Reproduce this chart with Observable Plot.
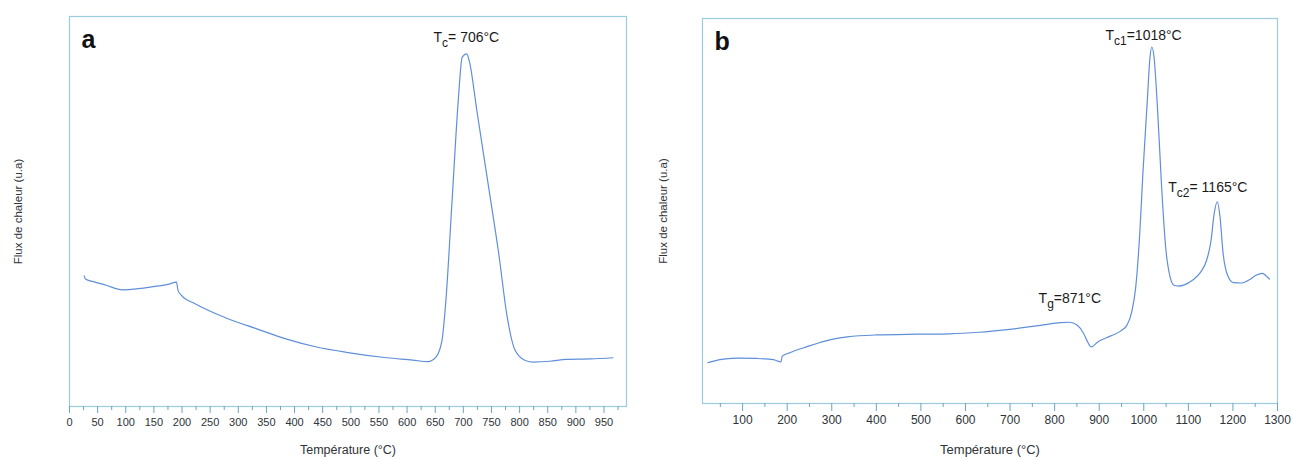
<!DOCTYPE html>
<html>
<head>
<meta charset="utf-8">
<script src="https://cdn.jsdelivr.net/npm/d3@7"></script>
<script src="https://cdn.jsdelivr.net/npm/@observablehq/plot@0.6"></script>
<style>
  html, body { margin: 0; padding: 0; background: #fff; }
  #wrap { position: relative; width: 1293px; height: 459px; overflow: hidden; }
  #pa, #pb { position: absolute; top: 0; }
  #pa { left: 0; }
  #pb { left: 645px; }
</style>
</head>
<body>
<div id="wrap"><div id="pa"></div><div id="pb"></div></div>
<script>
// ---------- Panel a data ----------
const tempA = [26, 29, 45, 65, 94, 123, 152, 175, 190, 193, 199, 224, 275, 333, 383, 441, 492, 564, 610, 637, 651, 662, 669, 680, 691, 698, 706, 711, 724, 745, 763, 778, 792, 810, 825, 854, 883, 926, 966];
const fluxA = [33.5, 32.6, 31.9, 31.1, 29.9, 30.2, 30.8, 31.3, 31.9, 29.7, 28.5, 26.3, 22.9, 19.9, 17.4, 15.2, 13.9, 12.5, 11.9, 11.5, 12.6, 16.9, 27.2, 52.8, 78.5, 89.6, 90.4, 88.3, 75.9, 56.2, 39.1, 22.9, 14.4, 11.8, 11.4, 11.6, 12.1, 12.2, 12.5];
const ticksA = [0, 50, 100, 150, 200, 250, 300, 350, 400, 450, 500, 550, 600, 650, 700, 750, 800, 850, 900, 950];
const minorA = [25, 75, 125, 175, 225, 275, 325, 375, 425, 475, 525, 575, 625, 675, 725, 775, 825, 875, 925, 975];
const labelsA = [{t: 647, v: 94.6, s: "T|c|= 706°C"}];

// ---------- Panel b data ----------
const tempB = [22, 49, 86, 132, 169, 186, 189, 206, 243, 298, 335, 400, 492, 565, 630, 694, 768, 814, 833, 851, 865, 874, 882, 897, 925, 948, 962, 973, 982, 991, 998, 1008, 1014, 1018, 1023, 1031, 1040, 1049, 1059, 1068, 1077, 1091, 1109, 1128, 1141, 1151, 1158, 1165, 1171, 1178, 1188, 1201, 1220, 1238, 1252, 1266, 1275, 1282];
const fluxB = [10.6, 11.4, 11.8, 11.7, 11.4, 10.8, 12.3, 13.2, 14.7, 16.6, 17.3, 17.8, 18.0, 18.1, 18.5, 19.2, 20.3, 21.0, 21.1, 20.3, 18.2, 16.0, 14.7, 16.0, 17.5, 18.8, 20.3, 23.8, 30.3, 44.2, 59.7, 78.8, 90.0, 92.6, 90.0, 76.2, 56.3, 40.7, 32.9, 30.7, 30.5, 30.8, 32.0, 34.2, 37.2, 42.4, 49.4, 52.4, 48.5, 39.0, 33.3, 31.4, 31.3, 32.2, 33.3, 33.8, 33.1, 32.3];
const ticksB = [100, 200, 300, 400, 500, 600, 700, 800, 900, 1000, 1100, 1200, 1300];
const minorB = [50, 150, 250, 350, 450, 550, 650, 750, 850, 950, 1050, 1150, 1250];
const labelsB = [
  {t: 914, v: 95.6, s: "T|c1|=1018°C"},
  {t: 1055, v: 56.1, s: "T|c2|= 1165°C"},
  {t: 764, v: 27.3, s: "T|g|=871°C"}
];

const yTitle = "Flux de chaleur (u.a)";
const xTitle = "Température (°C)";

const FONT = "'Liberation Sans', Arial, Helvetica, sans-serif";
const LINE = "#5f8fd9";
const FRAME = "#9ccbe0";
const TICK = "#6aa6c2";
const TXT = "#2e3338";

function subscripts(svg) {
  svg.querySelectorAll("text").forEach(el => {
    const s = el.textContent;
    if (!s.includes("|")) return;
    const [a, b, c] = s.split("|");
    const ns = "http://www.w3.org/2000/svg";
    el.textContent = "";
    const t1 = document.createElementNS(ns, "tspan"); t1.textContent = a;
    const t2 = document.createElementNS(ns, "tspan"); t2.textContent = b;
    t2.setAttribute("font-size", "12"); t2.setAttribute("dy", "5");
    const t3 = document.createElementNS(ns, "tspan"); t3.textContent = c;
    t3.setAttribute("dy", "-5");
    el.append(t1, t2, t3);
  });
}

function panel(o) {
  const data = o.temps.map((t, i) => ({t, v: o.flux[i]}));
  const svg = Plot.plot({
    width: o.width, height: 459,
    marginLeft: o.ml, marginRight: o.mr, marginTop: o.mt, marginBottom: o.mb,
    style: {fontFamily: FONT, fontSize: o.tickFont + "px", color: TXT, background: "transparent", overflow: "visible"},
    x: {domain: o.domain},
    y: {domain: [0, 100], axis: null},
    marks: [
      Plot.frame({stroke: FRAME, strokeWidth: 1.2}),
      Plot.axisX(o.minor, {tickSize: 4, tickFormat: () => "", stroke: TICK, label: null}),
      Plot.axisX(o.ticks, {tickSize: o.tickSize, tickPadding: o.tickPad, stroke: TICK, fill: TXT, label: null, tickFormat: d => String(d)}),
      Plot.line(data, {x: "t", y: "v", stroke: LINE, strokeWidth: 1.2, curve: "monotone-x"}),
      Plot.text(o.labels, {x: "t", y: "v", text: "s", textAnchor: "start", fontSize: 14, fill: "#1a1a1a"}),
      Plot.text([o.letter], {text: d => d, frameAnchor: "top-left", dx: 12, dy: 31, lineAnchor: "bottom", textAnchor: "start", fontSize: 25, fontWeight: "bold", fill: "#111"}),
      Plot.text([{t: o.yTitleX, v: 50, s: yTitle}], {x: "t", y: "v", text: "s", rotate: -90, fontSize: 11.5, fill: TXT}),
      Plot.text([xTitle], {text: d => d, frameAnchor: "bottom", dy: o.xTitleDy, fontSize: o.titleFont, fill: TXT})
    ]
  });
  subscripts(svg);
  return svg;
}

document.getElementById("pa").append(panel({
  width: 645, ml: 69, mr: 19, mt: 16, mb: 53, domain: [0, 990],
  temps: tempA, flux: fluxA, ticks: ticksA, minor: minorA, labels: labelsA,
  letter: "a", tickFont: 11, tickSize: 7, tickPad: 5, yTitleX: -90.6, xTitleDy: 47, titleFont: 12.5
}));
document.getElementById("pb").append(panel({
  width: 648, ml: 57, mr: 16, mt: 18, mb: 56, domain: [10, 1300],
  temps: tempB, flux: fluxB, ticks: ticksB, minor: minorB, labels: labelsB,
  letter: "b", tickFont: 12, tickSize: 8, tickPad: 4, yTitleX: -77.5, xTitleDy: 50, titleFont: 13
}));
</script>
</body>
</html>
